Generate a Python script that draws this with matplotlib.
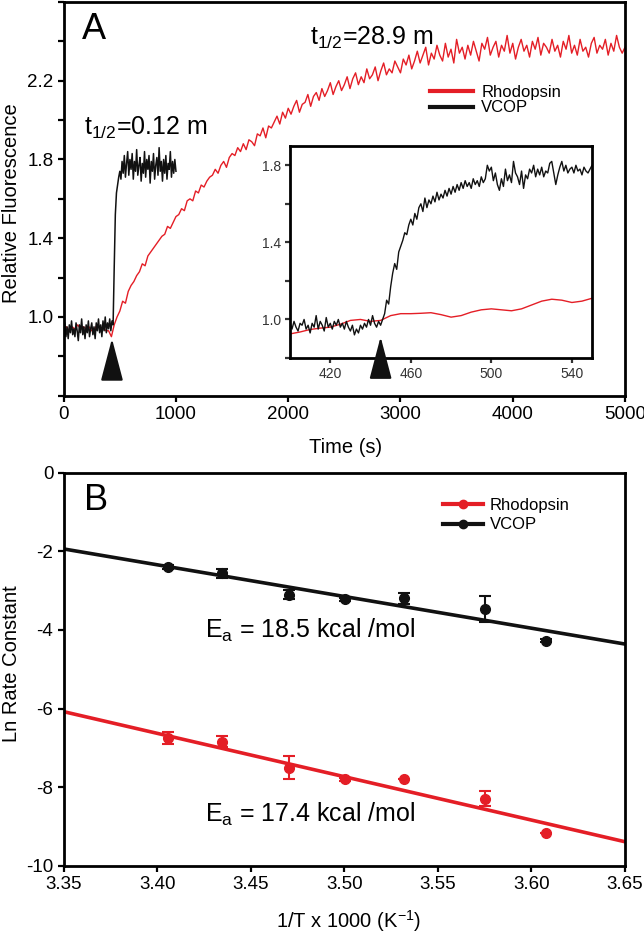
import numpy as np
import matplotlib
matplotlib.use("Agg")
import matplotlib.pyplot as plt
from matplotlib.lines import Line2D
from matplotlib.ticker import MultipleLocator, FormatStrFormatter

plt.rcParams["font.family"] = "Liberation Sans"
plt.rcParams["mathtext.fontset"] = "custom"
plt.rcParams["mathtext.rm"] = "Liberation Sans"
plt.rcParams["mathtext.it"] = "Liberation Sans"
plt.rcParams["axes.unicode_minus"] = False

RED = "#e41e26"
BLACK = "#111111"

# ---- panel A: fluorescence traces ----
# rhodopsin, sampled every 25 s from 0 to 5000 s
rho_step = 25
rho_fluor = [
    0.94, 0.95, 0.93, 0.95, 0.94, 0.96, 0.94, 0.95,
    0.94, 0.95, 0.93, 0.94, 0.96, 0.94, 0.95, 0.93,
    0.93, 0.90, 0.96, 1.00, 1.03, 1.08, 1.07, 1.13,
    1.16, 1.18, 1.21, 1.23, 1.27, 1.26, 1.31, 1.33,
    1.35, 1.37, 1.39, 1.41, 1.42, 1.46, 1.45, 1.48,
    1.51, 1.52, 1.55, 1.54, 1.59, 1.60, 1.59, 1.64,
    1.63, 1.67, 1.66, 1.69, 1.71, 1.72, 1.75, 1.73,
    1.77, 1.79, 1.76, 1.81, 1.83, 1.82, 1.86, 1.84,
    1.88, 1.85, 1.90, 1.89, 1.87, 1.93, 1.92, 1.96,
    1.91, 1.97, 1.96, 1.99, 2.02, 1.98, 2.04, 2.01,
    2.06, 2.03, 2.07, 2.10, 2.04, 2.08, 2.09, 2.13,
    2.07, 2.12, 2.14, 2.10, 2.16, 2.12, 2.15, 2.19,
    2.13, 2.17, 2.20, 2.15, 2.18, 2.22, 2.16, 2.21,
    2.24, 2.18, 2.22, 2.19, 2.26, 2.21, 2.23, 2.27,
    2.20, 2.25, 2.29, 2.23, 2.26, 2.24, 2.30, 2.27,
    2.24, 2.31, 2.28, 2.33, 2.26, 2.30, 2.35, 2.29,
    2.33, 2.37, 2.28, 2.34, 2.31, 2.38, 2.33, 2.30,
    2.39, 2.32, 2.36, 2.29, 2.41, 2.34, 2.37, 2.31,
    2.38, 2.33, 2.40, 2.35, 2.30, 2.39, 2.36, 2.42,
    2.33, 2.37, 2.40, 2.32, 2.38, 2.35, 2.43, 2.34,
    2.39, 2.31, 2.37, 2.41, 2.35, 2.38, 2.32, 2.40,
    2.36, 2.42, 2.33, 2.39, 2.37, 2.34, 2.41, 2.35,
    2.38, 2.32, 2.40, 2.36, 2.43, 2.34, 2.38, 2.33,
    2.41, 2.35, 2.37, 2.32, 2.39, 2.42, 2.34, 2.38,
    2.36, 2.41, 2.33, 2.39, 2.35, 2.43, 2.37, 2.34,
    2.37,
]
# VCOP, sampled every 10 s from 0 to 1000 s
vcop_step = 10
vcop_fluor = [
    0.93, 0.97, 0.90, 0.95, 0.89, 0.96, 0.92, 0.98, 0.91, 0.94,
    0.90, 0.97, 0.93, 0.88, 0.96, 0.92, 0.99, 0.91, 0.95, 0.89,
    0.96, 0.92, 0.98, 0.90, 0.94, 0.97, 0.91, 0.95, 0.89, 0.97,
    0.93, 0.99, 0.92, 0.96, 0.90, 0.98, 0.93, 1.00, 0.92, 0.97,
    0.94, 0.99, 0.93, 0.98, 0.96, 1.25, 1.52, 1.63, 1.67, 1.71,
    1.74, 1.70, 1.79, 1.73, 1.82, 1.71, 1.78, 1.84, 1.72, 1.80,
    1.75, 1.83, 1.70, 1.79, 1.74, 1.85, 1.72, 1.77, 1.81, 1.69,
    1.78, 1.73, 1.84, 1.71, 1.80, 1.75, 1.82, 1.68, 1.79, 1.74,
    1.83, 1.70, 1.77, 1.81, 1.72, 1.86, 1.74, 1.79, 1.69, 1.80,
    1.73, 1.82, 1.70, 1.78, 1.75, 1.84, 1.71, 1.79, 1.73, 1.80,
    1.74,
]

# inset: 400-550 s
ins_vcop_step = 1
ins_vcop = [
    0.98, 0.95, 0.99, 0.96, 0.94, 0.98, 0.97, 1.00, 0.95, 0.97,
    0.93, 0.98, 0.96, 1.02, 0.95, 0.99, 0.97, 0.94, 1.01, 0.96,
    0.98, 0.95, 0.99, 0.97, 1.00, 0.96, 0.98, 0.95, 0.99, 0.96,
    0.94, 0.97, 0.92, 0.95, 0.93, 0.97, 0.95, 0.98, 0.96, 1.00,
    0.97, 1.02, 0.98, 0.96, 0.99, 0.97, 1.00, 1.03, 1.10, 1.08,
    1.17, 1.24, 1.29, 1.26, 1.35, 1.38, 1.41, 1.45, 1.44, 1.49,
    1.52, 1.49, 1.55, 1.52, 1.58, 1.60, 1.56, 1.63, 1.58, 1.62,
    1.60, 1.64, 1.61, 1.66, 1.62, 1.65, 1.63, 1.67, 1.64, 1.68,
    1.65, 1.69, 1.66, 1.70, 1.67, 1.71, 1.68, 1.72, 1.69, 1.71,
    1.68, 1.73, 1.70, 1.72, 1.69, 1.74, 1.71, 1.73, 1.80, 1.77,
    1.79, 1.72, 1.76, 1.70, 1.67, 1.73, 1.69, 1.78, 1.72, 1.75,
    1.71, 1.82, 1.76, 1.74, 1.70, 1.77, 1.68, 1.75, 1.73, 1.78,
    1.76, 1.80, 1.74, 1.78, 1.75, 1.79, 1.74, 1.77, 1.76, 1.81,
    1.82, 1.76, 1.70, 1.75, 1.79, 1.82, 1.77, 1.80, 1.76, 1.78,
    1.79, 1.76, 1.80, 1.77, 1.78, 1.75, 1.79, 1.77, 1.76, 1.78,
    1.80,
]
ins_rho_step = 5
ins_rho = [
    0.925, 0.935, 0.948, 0.955, 0.960, 0.975, 0.995, 1.000, 0.990, 0.995,
    1.020, 1.030, 1.030, 1.032, 1.035, 1.025, 1.012, 1.020, 1.038, 1.050,
    1.055, 1.050, 1.045, 1.055, 1.075, 1.095, 1.105, 1.100, 1.088, 1.095,
    1.110,
]
trigger_main = 430
trigger_inset = 445

# ---- panel B: Arrhenius ----
inv_T = [3.406, 3.4345, 3.4705, 3.5003, 3.5317, 3.575, 3.608]
ln_k_vcop = [-2.39, -2.56, -3.10, -3.22, -3.20, -3.47, -4.27]
err_vcop = [0.05, 0.11, 0.11, 0.04, 0.14, 0.33, 0.04]
ln_k_rho = [-6.76, -6.84, -7.51, -7.80, -7.80, -8.29, -9.18]
err_rho = [0.15, 0.13, 0.29, 0.04, 0.0, 0.19, 0.0]
fit_x = [3.35, 3.65]
fit_vcop = [-1.94, -4.36]
fit_rho = [-6.08, -9.39]


def style_axes(ax, lw=2.0, labelsize=13.5, ticklen=4.5):
    for s in ax.spines.values():
        s.set_linewidth(lw)
    ax.tick_params(which="both", direction="out", length=ticklen, width=1.6,
                   labelsize=labelsize, pad=3)


fig = plt.figure(figsize=(6.44, 9.34), dpi=100)

# panel A
ax1 = fig.add_axes([0.0989, 0.5763, 0.8716, 0.4216])
t_rho = np.arange(len(rho_fluor)) * rho_step
t_vcop = np.arange(len(vcop_fluor)) * vcop_step
ax1.plot(t_rho, rho_fluor, color=RED, lw=1.0)
ax1.plot(t_vcop, vcop_fluor, color=BLACK, lw=1.1)
ax1.set_xlim(0, 5000)
ax1.set_ylim(0.6, 2.6)
ax1.xaxis.set_major_locator(MultipleLocator(1000))
ax1.set_yticks([1.0, 1.4, 1.8, 2.2])
ax1.yaxis.set_minor_locator(MultipleLocator(0.2))
ax1.yaxis.set_major_formatter(FormatStrFormatter("%.1f"))
style_axes(ax1)
ax1.set_xlabel("Time (s)", fontsize=14.5)
ax1.set_ylabel("Relative Fluorescence", fontsize=14.5)
ax1.xaxis.set_label_coords(0.503, -0.108)
ax1.yaxis.set_label_coords(-0.076, 0.49)
ax1.text(0.033, 0.906, "A", transform=ax1.transAxes, fontsize=26, va="baseline")
ax1.text(0.439, 0.891, r"t$_{\mathregular{1/2}}$=28.9 m", transform=ax1.transAxes,
         fontsize=18, va="baseline")
ax1.text(0.037, 0.662, r"t$_{\mathregular{1/2}}$=0.12 m", transform=ax1.transAxes,
         fontsize=18, va="baseline")
ax1.annotate("", xy=(trigger_main, 0.89), xytext=(trigger_main, 0.695),
             arrowprops=dict(arrowstyle="-|>,head_length=1.9,head_width=0.5",
                             mutation_scale=14, color=BLACK, lw=1.5,
                             shrinkA=0, shrinkB=0))
handles = [Line2D([], [], color=RED, lw=3), Line2D([], [], color=BLACK, lw=3)]
ax1.legend(handles, ["Rhodopsin", "VCOP"], loc="upper left",
           bbox_to_anchor=(0.652, 0.79), frameon=False, fontsize=12,
           handlelength=2.6, handletextpad=0.5, labelspacing=0.05,
           borderpad=0, borderaxespad=0)

# inset
ins = fig.add_axes([0.4503, 0.6167, 0.469, 0.227])
t_ins_v = 400 + np.arange(len(ins_vcop)) * ins_vcop_step
t_ins_r = 400 + np.arange(len(ins_rho)) * ins_rho_step
ins.plot(t_ins_r, ins_rho, color=RED, lw=1.0)
ins.plot(t_ins_v, ins_vcop, color=BLACK, lw=1.0)
ins.set_xlim(400, 550)
ins.set_ylim(0.8, 1.9)
ins.set_xticks([420, 460, 500, 540])
ins.set_yticks([1.0, 1.4, 1.8])
ins.yaxis.set_minor_locator(MultipleLocator(0.2))
ins.yaxis.set_major_formatter(FormatStrFormatter("%.1f"))
style_axes(ins, lw=2.0, labelsize=10, ticklen=3.5)
ins.tick_params(colors="#333333", which="both")
ins.annotate("", xy=(trigger_inset, 0.91), xytext=(trigger_inset, 0.705),
             annotation_clip=False,
             arrowprops=dict(arrowstyle="-|>,head_length=1.9,head_width=0.5",
                             mutation_scale=14, color=BLACK, lw=1.5,
                             shrinkA=0, shrinkB=0, clip_on=False))

# panel B
ax2 = fig.add_axes([0.0989, 0.0731, 0.8716, 0.4208])
ax2.plot(fit_x, fit_vcop, color=BLACK, lw=2.6)
ax2.plot(fit_x, fit_rho, color=RED, lw=2.6)
ax2.errorbar(inv_T, ln_k_vcop, yerr=err_vcop, fmt="o", color=BLACK, ms=7,
             capsize=4.5, elinewidth=1.5, capthick=1.5)
ax2.errorbar(inv_T, ln_k_rho, yerr=err_rho, fmt="o", color=RED, ms=7,
             capsize=4.5, elinewidth=1.5, capthick=1.5)
ax2.set_xlim(3.35, 3.65)
ax2.set_ylim(-10, 0)
ax2.xaxis.set_major_locator(MultipleLocator(0.05))
ax2.xaxis.set_major_formatter(FormatStrFormatter("%.2f"))
ax2.yaxis.set_major_locator(MultipleLocator(2))
style_axes(ax2)
ax2.set_xlabel(r"1/T x 1000 (K$^{\mathregular{-1}}$)", fontsize=14.5)
ax2.set_ylabel("Ln Rate Constant", fontsize=14.5)
ax2.xaxis.set_label_coords(0.508, -0.108)
ax2.yaxis.set_label_coords(-0.076, 0.513)
ax2.text(0.036, 0.905, "B", transform=ax2.transAxes, fontsize=26, va="baseline")
ax2.text(0.252, 0.580, r"E$_{\mathregular{a}}$ = 18.5 kcal /mol",
         transform=ax2.transAxes, fontsize=18, va="baseline")
ax2.text(0.252, 0.112, r"E$_{\mathregular{a}}$ = 17.4 kcal /mol",
         transform=ax2.transAxes, fontsize=18, va="baseline")
handles_b = [Line2D([], [], color=RED, lw=3, marker="o", ms=6),
             Line2D([], [], color=BLACK, lw=3, marker="o", ms=6)]
ax2.legend(handles_b, ["Rhodopsin", "VCOP"], loc="upper left",
           bbox_to_anchor=(0.676, 0.935), frameon=False, fontsize=12,
           handlelength=2.4, handletextpad=0.4, labelspacing=0.25,
           borderpad=0, borderaxespad=0)

fig.savefig("out.png", dpi=100)
